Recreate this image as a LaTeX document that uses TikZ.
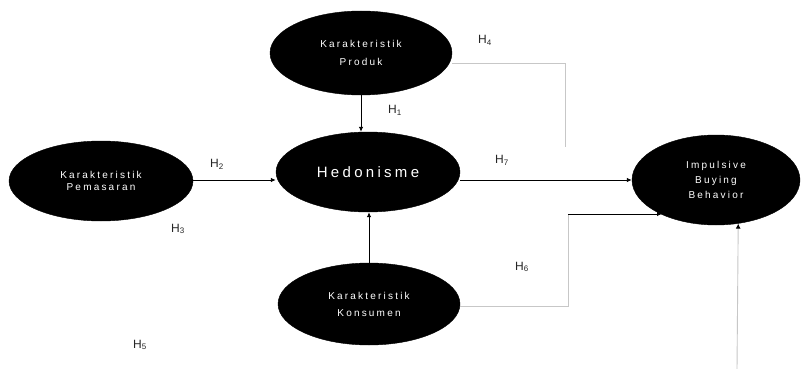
\documentclass[tikz,border=0pt]{standalone}
\usepackage{fontspec}
\setmainfont{Liberation Sans}
\usetikzlibrary{shapes.geometric,arrows.meta}
\newfontfamily\spaced[LetterSpace=22]{Liberation Sans}
\tikzset{
  var/.style={ellipse, fill=black, draw=black, inner sep=0pt, text=white,
    align=center},
  arr/.style={draw=black, line width=0.9pt, -{Latex[length=5pt,width=4.5pt]}},
  gl/.style={draw=black!22, line width=0.9pt},
  glarr/.style={draw=black!22, line width=0.9pt, -{Latex[length=5pt,width=5pt,color=black]}},
  hlab/.style={font=\fontsize{12}{14}\selectfont, text=black!85}
}
\begin{document}
\begin{tikzpicture}[x=1pt,y=-1pt]
\useasboundingbox[fill=white] (0,0) rectangle (808,369);
\node[var, minimum width=182pt, minimum height=84pt, font=\spaced\fontsize{10}{18}\selectfont] (prod) at (361,53) {Karakteristik\\Produk};
\node[var, minimum width=184pt, minimum height=80pt, font=\spaced\fontsize{10}{12.5}\selectfont] (pem) at (101,181) {Karakteristik\\Pemasaran};
\node[var, minimum width=184pt, minimum height=80pt, font=\spaced\fontsize{15}{17}\selectfont] (hed) at (368,172) {Hedonisme};
\node[var, minimum width=168pt, minimum height=90pt, font=\spaced\fontsize{10}{15}\selectfont] (imp) at (716,180) {Impulsive\\Buying\\Behavior};
\node[var, minimum width=182pt, minimum height=82pt, font=\spaced\fontsize{10}{17}\selectfont] (kon) at (369,304) {Karakteristik\\Konsumen};

\coordinate (ya) at (0,180);
\coordinate (c4) at (565,63);
\coordinate (c4e) at (565,147);
\coordinate (c6) at (568,306);
\coordinate (c6t) at (568,214);
\coordinate (c6e) at (662,214);
\coordinate (c5) at (737,369);

\draw[arr] (prod.south) -- (prod.south |- hed.north);
\draw[arr] (kon.north) -- (kon.north |- hed.south);
\draw[arr] (pem.east |- ya) -- (hed.west |- ya);
\draw[arr] (hed.east |- ya) -- (imp.west |- ya);
\draw[gl] (c4 -| prod.east) -- (c4) -- (c4e);
\draw[gl] (c6 -| kon.east) -- (c6) -- (c6t);
\draw[arr] (c6t) -- (c6e);
\draw[glarr] (c5) -- (imp.297);

\node[hlab] (l4) at (485,40) {H\textsubscript{4}};
\node[hlab] (l1) at (395,110) {H\textsubscript{1}};
\node[hlab] (l2) at (217,164) {H\textsubscript{2}};
\node[hlab] (l7) at (502,160) {H\textsubscript{7}};
\node[hlab] (l3) at (178,229) {H\textsubscript{3}};
\node[hlab] (l6) at (522,267) {H\textsubscript{6}};
\node[hlab] (l5) at (140,345) {H\textsubscript{5}};
\end{tikzpicture}
\end{document}
